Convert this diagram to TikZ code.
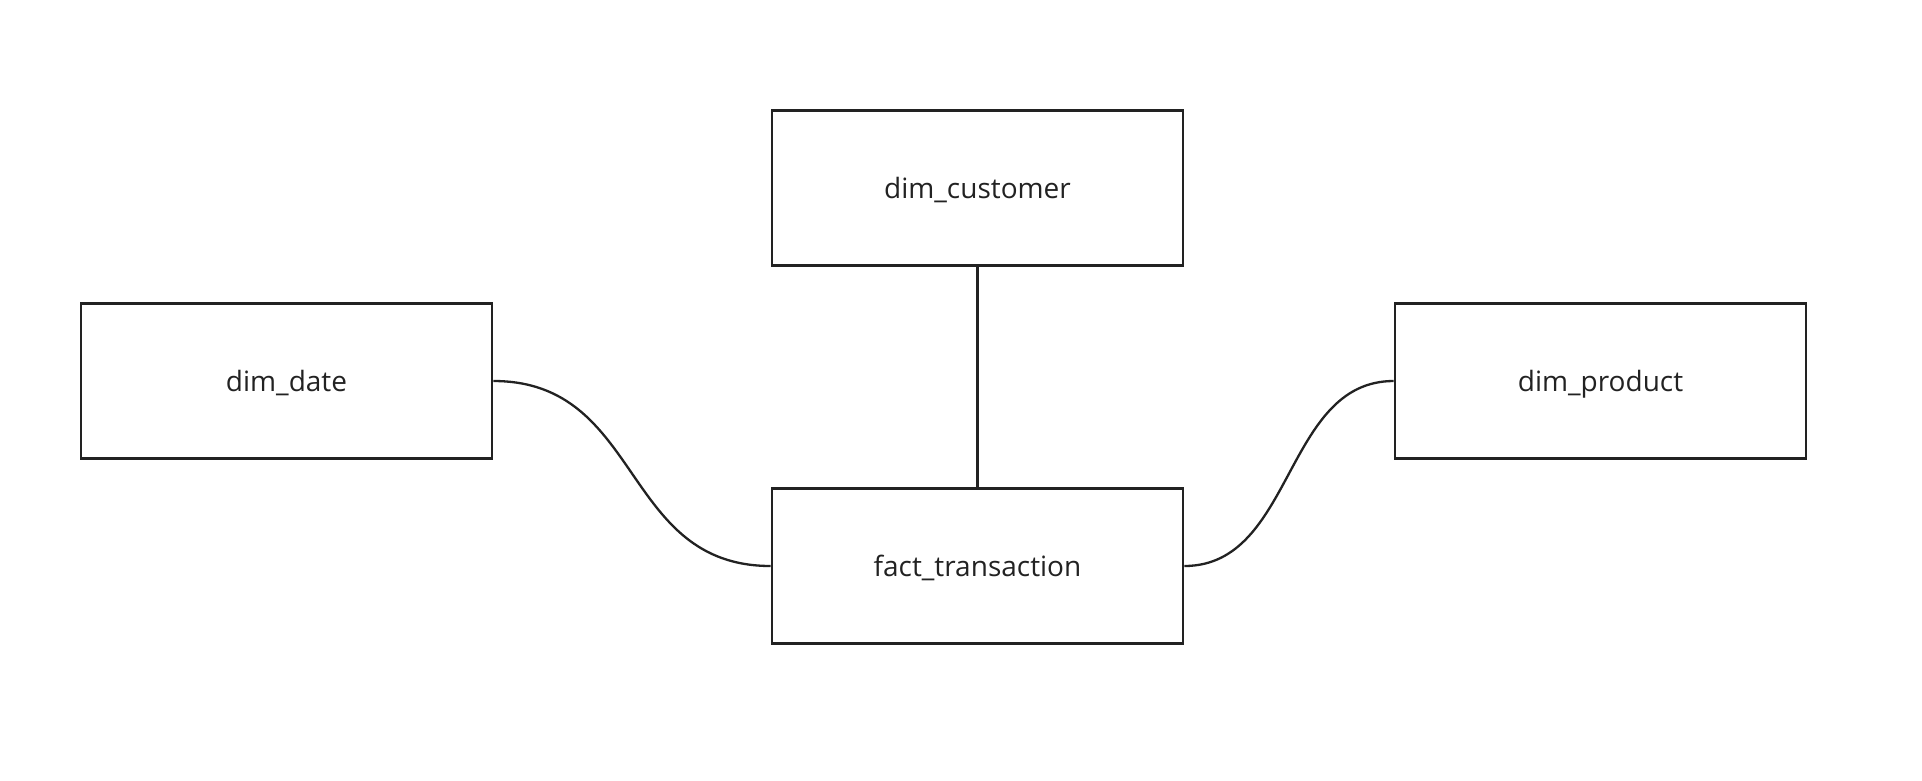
\documentclass[tikz,border=0pt]{standalone}
\usepackage{fontspec}
\setmainfont{Open Sans}
\definecolor{inkdark}{HTML}{222222}
\begin{document}
\begin{tikzpicture}[x=1pt,y=-1pt,
		table/.style={rectangle,draw=inkdark,line width=2.6pt,minimum width=411pt,minimum height=155pt,
			inner sep=0pt,text height=24pt,text depth=4pt,text=inkdark,font=\fontsize{28}{33}\selectfont},
		link/.style={draw=inkdark,line width=2.3pt}]
		\useasboundingbox (0,0) rectangle (1922,780);
		\node[table](customer) at (977.5,188){dim\_customer};
		\node[table](date) at (286.5,381){dim\_date};
		\node[table](product) at (1600.5,381){dim\_product};
		\node[table](fact) at (977.5,566){fact\_transaction};
		\draw[link] (customer.south) -- (fact.north);
		\draw[link] (date.east) .. controls +(150pt,0) and +(-150pt,0) .. (fact.west);
		\draw[link] (fact.east) .. controls +(110pt,0) and +(-110pt,0) .. (product.west);
	\end{tikzpicture}
\end{document}
